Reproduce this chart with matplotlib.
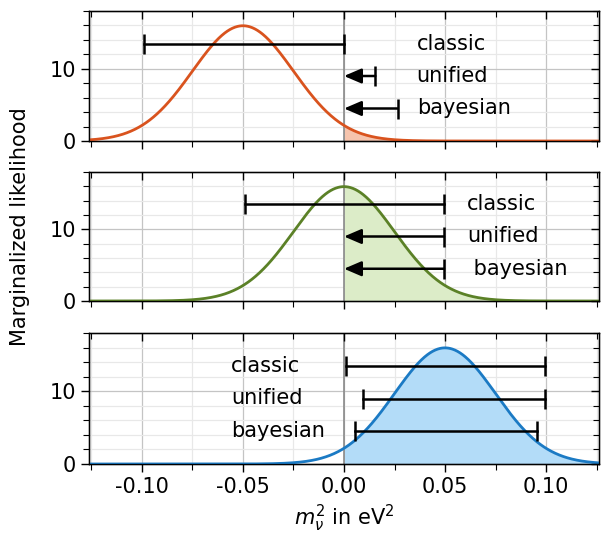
import numpy as np
import matplotlib
matplotlib.use("Agg")
import matplotlib.pyplot as plt
from matplotlib.ticker import MultipleLocator

plt.rcParams['font.family'] = ['DejaVu Sans']
plt.rcParams['mathtext.fontset'] = 'dejavusans'

# Data
means = [-0.05, 0.0, 0.05]
sigma = 0.025
line_colors = ['#d9531e', '#5b8127', '#1b7ac4']
fill_colors = ['#f6c4ad', '#dcecc8', '#b3dcf8']
method_y = [13.5, 9.0, 4.5]

# intervals per panel: (lower, upper, is_upper_limit)
intervals = [
    [(-0.099, 0.0, False), (0.0, 0.0155, True), (0.0, 0.0265, True)],
    [(-0.049, 0.0495, False), (0.0, 0.0495, True), (0.0, 0.0495, True)],
    [(0.0012, 0.0995, False), (0.0092, 0.0995, False), (0.0053, 0.0955, False)],
]
text_x = [0.036, 0.061, -0.056]
text_labels = [
    ['classic', 'unified', 'bayesian'],
    ['classic', 'unified', ' bayesian'],
    ['classic', 'unified', 'bayesian'],
]
xticks = [-0.10, -0.05, 0.00, 0.05, 0.10]
xticklabels = ['-0.10', '-0.05', '0.00', '0.05', '0.10']
yticks = [0, 10]
xlim = (-0.1262, 0.1262)
ylim = (0, 18)

fig = plt.figure(figsize=(6.01, 5.39), dpi=100)
W, H = 601, 539
left, right = 89, 599
tops = [11, 172, 333]
bottoms = [141, 301, 464]
axes = []
for t, b in zip(tops, bottoms):
    ax = fig.add_axes([left / W, 1 - b / H, (right - left) / W, (b - t) / H])
    axes.append(ax)


def style_ticks(a, direction):
    a.tick_params(which='both', direction=direction, labelsize=15)
    a.tick_params(which='major', length=6, width=1)
    a.tick_params(which='minor', length=4, width=0.8)


x = np.linspace(xlim[0], xlim[1], 1000)
for i, ax in enumerate(axes):
    mu = means[i]
    y = np.exp(-0.5 * ((x - mu) / sigma) ** 2) / (sigma * np.sqrt(2 * np.pi))
    mask = x >= 0
    ax.fill_between(x[mask], 0, y[mask], color=fill_colors[i], lw=0, zorder=2)
    ax.plot(x, y, color=line_colors[i], lw=2, zorder=3)
    ax.axvline(0, color='#8a8a8a', lw=1.2, zorder=2.5)

    for (lo, hi, ul), yy in zip(intervals[i], method_y):
        if ul:
            ax.annotate('', xy=(lo, yy), xytext=(hi, yy),
                        arrowprops=dict(arrowstyle='-|>,head_length=1.05,head_width=0.45',
                                        color='black', lw=1.8, shrinkA=0, shrinkB=0),
                        zorder=5)
            ax.plot([hi], [yy], marker='|', color='black', ms=14, mew=1.8, zorder=5)
        else:
            ax.plot([lo, hi], [yy, yy], color='black', lw=1.8, zorder=5)
            ax.plot([lo, hi], [yy, yy], ls='none', marker='|', color='black',
                    ms=14, mew=1.8, zorder=5)
    for lab, yy in zip(text_labels[i], method_y):
        ax.text(text_x[i], yy, lab, fontsize=15, va='center', ha='left', zorder=6)

    ax.set_xlim(*xlim)
    ax.set_ylim(*ylim)
    ax.set_xticks(xticks)
    ax.xaxis.set_minor_locator(MultipleLocator(0.025))
    ax.set_yticks(yticks)
    ax.yaxis.set_minor_locator(MultipleLocator(2))
    ax.grid(which='major', color='#c4c4c4', lw=0.9, zorder=0)
    ax.grid(which='minor', color='#e8e8e8', lw=0.9, zorder=0)
    ax.set_axisbelow(True)
    style_ticks(ax, 'out')
    for s in ax.spines.values():
        s.set_linewidth(1.0)

    # inward ticks on top and right
    tx = ax.twiny()
    tx.set_xlim(*xlim)
    tx.set_xticks(xticks)
    tx.xaxis.set_minor_locator(MultipleLocator(0.025))
    style_ticks(tx, 'in')
    tx.tick_params(which='both', labeltop=False, top=True, bottom=False)
    tx.patch.set_visible(False)
    ty = ax.twinx()
    ty.set_ylim(*ylim)
    ty.set_yticks(yticks)
    ty.yaxis.set_minor_locator(MultipleLocator(2))
    style_ticks(ty, 'in')
    ty.tick_params(which='both', labelright=False, right=True, left=False)
    ty.patch.set_visible(False)

    if i < 2:
        ax.set_xticklabels([])
    else:
        ax.set_xticklabels(xticklabels)
        ax.set_xlabel(r'$m_{\nu}^{2}$ in eV$^{2}$', fontsize=15)

fig.text(0.033, 0.58, 'Marginalized likelihood', rotation=90, fontsize=15,
         va='center', ha='center')

fig.savefig('out.png', dpi=100)
